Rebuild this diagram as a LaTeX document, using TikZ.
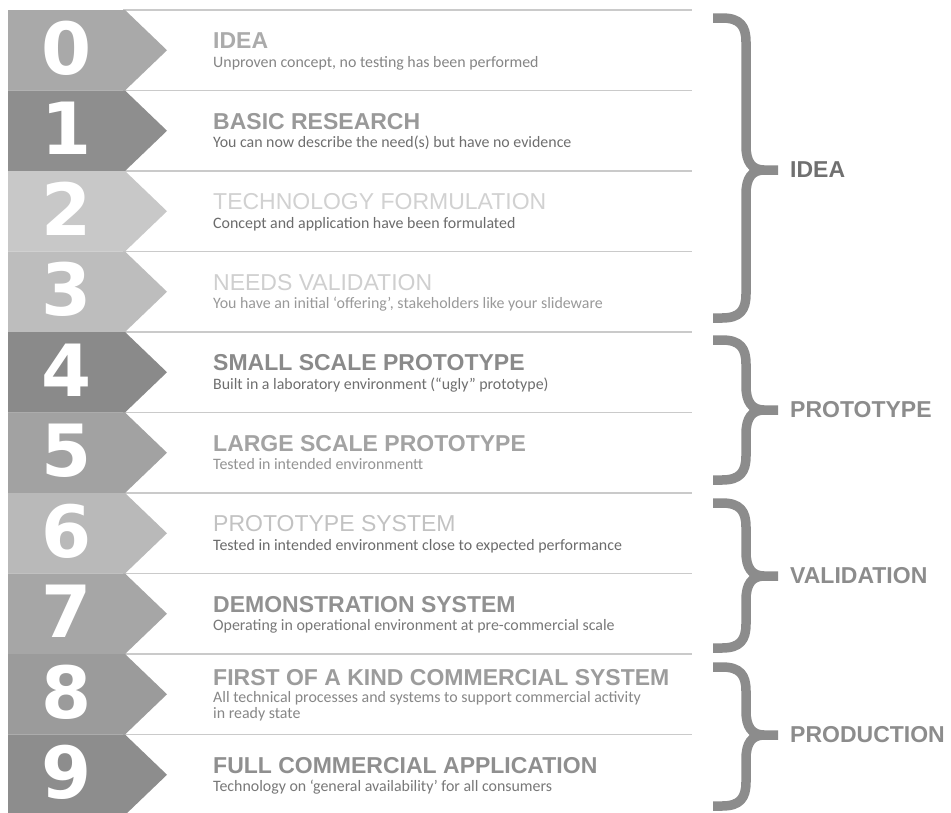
\documentclass[tikz,border=0pt]{standalone}
\usepackage{fontspec}
\setmainfont{Liberation Sans}
\newfontfamily\subfont{Carlito}
\newfontfamily\digfont{DejaVu Sans}
\definecolor{c0}{HTML}{A9A9A9}
\definecolor{c1}{HTML}{8E8E8E}
\definecolor{c2}{HTML}{C8C8C8}
\definecolor{c3}{HTML}{BDBDBD}
\definecolor{c4}{HTML}{8A8A8A}
\definecolor{c5}{HTML}{A2A2A2}
\definecolor{c6}{HTML}{B9B9B9}
\definecolor{c7}{HTML}{A6A6A6}
\definecolor{c8}{HTML}{9B9B9B}
\definecolor{c9}{HTML}{8D8D8D}
\definecolor{sepc}{HTML}{CACACA}
\definecolor{brcc}{HTML}{8C8C8C}
\newcommand\tbrace[3]{%
  \draw[brc] (713,#1) -- (722,#1) .. controls (740,#1) and (746,#1+8) .. (746,#1+24)
    -- (746,#2-24) .. controls (746,#2-8) and (752,#2) .. (764,#2) -- (778,#2);
  \draw[brc] (764,#2) .. controls (752,#2) and (746,#2+8) .. (746,#2+24)
    -- (746,#3-24) .. controls (746,#3-8) and (740,#3) .. (722,#3) -- (713,#3);}
\begin{document}
\begin{tikzpicture}[x=1pt,y=-1pt,
  sepline/.style={draw=sepc,line width=1.8},
  digit/.style={text=white,inner sep=0pt,font=\digfont\bfseries\fontsize{72}{72}\selectfont},
  ttl/.style={anchor=base west,inner sep=0pt,font=\bfseries\fontsize{23}{23}\selectfont},
  ttllight/.style={anchor=base west,inner sep=0pt,font=\fontsize{23}{23}\selectfont},
  sub/.style={anchor=base west,inner sep=0pt,font=\subfont\fontsize{15.9}{16.5}\selectfont},
  grp/.style={anchor=west,inner sep=0pt,font=\bfseries\fontsize{23}{23}\selectfont},
  brc/.style={draw=brcc,line width=9.5,line cap=butt,line join=round}]
\useasboundingbox (0,0) rectangle (951,812);
\clip (0,0) rectangle (951,812);
\fill[white] (0,0) rectangle (951,812);
% separator lines
\foreach \t in {10,90.5,171,251.5,332,412.5,493,573.5,654,734.5}
  \draw[sepline] (123,\t) -- (692,\t);
% chevrons with digits
\foreach \i/\t in {0/10,1/90.5,2/171,3/251.5,4/332,5/412.5,6/493,7/573.5,8/654,9/734.5}{
  \fill[c\i] (8,\t) -- (125,\t) -- (167,\t+40.25) -- (125,\t+80.5) -- (8,\t+80.5) -- cycle;
  \node[digit] (n\i) at (67,\t+38) {\i};
}
% titles and subtitles
\node[ttl,text=black!33] (t0) at (213,48.5) {IDEA};
\node[sub,text=black!48] (s0) at (213,67) {Unproven concept, no testing has been performed};
\node[ttl,text=black!40] (t1) at (213,129) {BASIC RESEARCH};
\node[sub,text=black!57] (s1) at (213,147.5) {You can now describe the need(s) but have no evidence};
\node[ttllight,text=black!18] (t2) at (213,209.5) {TECHNOLOGY FORMULATION};
\node[sub,text=black!58] (s2) at (213,228) {Concept and application have been formulated};
\node[ttllight,text=black!19] (t3) at (213,290) {NEEDS VALIDATION};
\node[sub,text=black!40] (s3) at (213,308.5) {You have an initial ‘offering’, stakeholders like your slideware};
\node[ttl,text=black!46] (t4) at (213,370.5) {SMALL SCALE PROTOTYPE};
\node[sub,text=black!57] (s4) at (213,389) {Built in a laboratory environment (“ugly” prototype)};
\node[ttl,text=black!36] (t5) at (213,451) {LARGE SCALE PROTOTYPE};
\node[sub,text=black!42] (s5) at (213,469.5) {Tested in intended environmentt};
\node[ttllight,text=black!24] (t6) at (213,531.5) {PROTOTYPE SYSTEM};
\node[sub,text=black!58] (s6) at (213,550) {Tested in intended environment close to expected performance};
\node[ttl,text=black!43] (t7) at (213,612) {DEMONSTRATION SYSTEM};
\node[sub,text=black!53] (s7) at (213,630.5) {Operating in operational environment at pre-commercial scale};
\node[ttl,text=black!39] (t8) at (213,685.5) {FIRST OF A KIND COMMERCIAL SYSTEM};
\node[sub,text=black!47] (s8) at (213,702) {All technical processes and systems to support commercial activity};
\node[sub,text=black!47] (s8b) at (213,718.5) {in ready state};
\node[ttl,text=black!44] (t9) at (213,773) {FULL COMMERCIAL APPLICATION};
\node[sub,text=black!53] (s9) at (213,791.5) {Technology on ‘general availability’ for all consumers};
% braces
\tbrace{18}{170}{318}
\tbrace{340}{410}{480}
\tbrace{503}{576}{648}
\tbrace{667}{735}{806}
\node[grp,text=black!56] (gidea) at (790,170) {IDEA};
\node[grp,text=black!45] (gproto) at (790,410) {PROTOTYPE};
\node[grp,text=black!45] (gvalid) at (790,576) {VALIDATION};
\node[grp,text=black!45] (gprod) at (790,735) {PRODUCTION};
\end{tikzpicture}
\end{document}
